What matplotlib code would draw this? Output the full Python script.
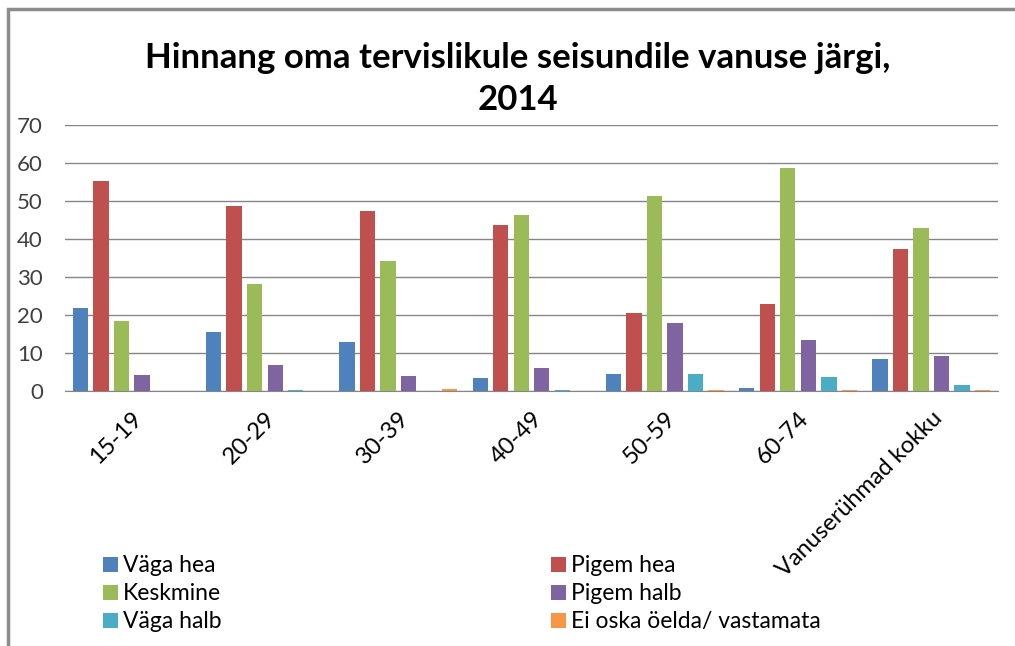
import matplotlib.pyplot as plt
import matplotlib.patches as mpatches
import numpy as np

plt.rcParams['font.family'] = ['Lato', 'DejaVu Sans']

# Age groups and answer shares (%)
groups = ['15-19', '20-29', '30-39', '40-49', '50-59', '60-74', 'Vanuserühmad kokku']
series = ['Väga hea', 'Pigem hea', 'Keskmine', 'Pigem halb', 'Väga halb',
          'Ei oska öelda/ vastamata']
vaga_hea = [21.8, 15.4, 13.0, 3.3, 4.6, 0.9, 8.3]
pigem_hea = [55.2, 48.7, 47.4, 43.6, 20.5, 22.9, 37.3]
keskmine = [18.4, 28.2, 34.3, 46.2, 51.4, 58.8, 42.8]
pigem_halb = [4.3, 6.9, 3.9, 6.1, 17.8, 13.4, 9.3]
vaga_halb = [0.0, 0.3, 0.0, 0.3, 4.6, 3.6, 1.6]
ei_oska = [0.0, 0.0, 0.5, 0.1, 0.3, 0.3, 0.3]
colors = ['#4F81BD', '#C0504D', '#9BBB59', '#8064A2', '#4BACC6', '#F79646']

values = [vaga_hea, pigem_hea, keskmine, pigem_halb, vaga_halb, ei_oska]

fig = plt.figure(figsize=(10.15, 6.46), dpi=100)
ax = fig.add_axes([65 / 1015, 1 - 391 / 646, 933 / 1015, 266 / 646])

x = np.arange(len(groups))
pitch = 0.154
width = 0.115
bars = []
for i, (vals, c) in enumerate(zip(values, colors)):
    b = ax.bar(x + (i - 2.5) * pitch, vals, width, color=c, zorder=3)
    bars.append(b)

ax.set_xlim(-0.5, len(groups) - 0.5)
ax.set_ylim(0, 70)
ax.set_yticks(range(0, 71, 10))
ax.yaxis.grid(True, color='#868686', linewidth=1.0, zorder=0)
ax.tick_params(axis='y', length=0, labelsize=16, pad=16, colors='#404040')
ax.tick_params(axis='x', length=0, labelsize=17, pad=12)
ax.set_xticks(x)
ax.set_xticklabels(groups, rotation=45, ha='right', va='top', rotation_mode='anchor')
for s in ['top', 'right', 'left']:
    ax.spines[s].set_visible(False)
ax.spines['bottom'].set_color('#868686')

# Title
fig.text(518 / 1015, 1 - 58 / 646, 'Hinnang oma tervislikule seisundile vanuse järgi,',
         ha='center', va='center', fontsize=25, fontweight='bold')
fig.text(518 / 1015, 1 - 100 / 646, '2014',
         ha='center', va='center', fontsize=25, fontweight='bold')

# Legend in two columns (row-wise order like the original)
left_idx = [0, 2, 4]
right_idx = [1, 3, 5]
for idx, xpos in [(left_idx, 92), (right_idx, 540)]:
    leg = fig.legend([bars[i] for i in idx], [series[i] for i in idx],
                     loc='upper left', bbox_to_anchor=(xpos / 1015, 1 - 544 / 646),
                     frameon=False, fontsize=16.5, handlelength=0.65, handleheight=0.65,
                     handletextpad=0.2, labelspacing=0.3, borderpad=0)

# Chart frame (left and top visible)
fig.patches.append(mpatches.Rectangle((8 / 1015, -0.1), 1.2, 1 - 9 / 646 + 0.1,
                                      transform=fig.transFigure, fill=False,
                                      edgecolor='#8c8c8c', linewidth=2.5))

fig.savefig('out.png', dpi=100)
